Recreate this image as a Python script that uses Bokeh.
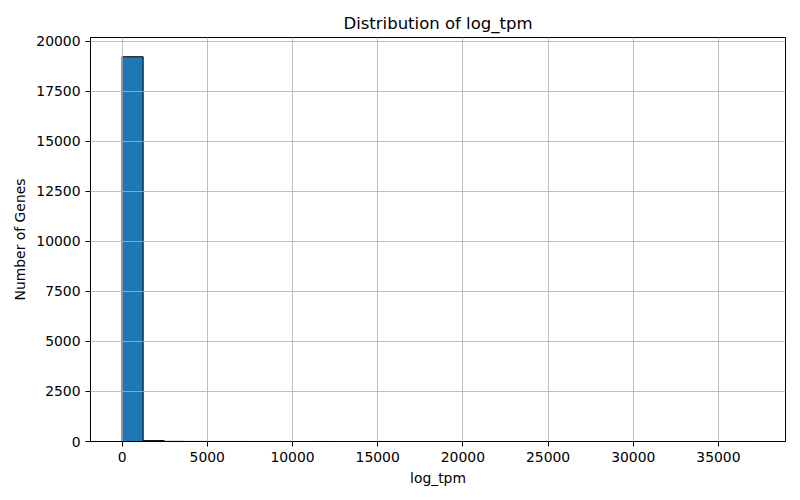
from bokeh.plotting import figure
from bokeh.models import FixedTicker, Range1d, ColumnDataSource
from bokeh.embed import file_html
from bokeh.resources import INLINE

# Histogram of log_tpm, 30 bins
x_min = 0.0
x_max = 37080.0
n_bins = 30
counts = [19230, 45, 6, 3, 2, 2, 1, 1, 0, 1, 0, 0, 1, 0, 0,
          0, 0, 0, 0, 0, 0, 0, 0, 0, 0, 0, 0, 0, 0, 1]
x_ticks = [0, 5000, 10000, 15000, 20000, 25000, 30000, 35000]
y_ticks = [0, 2500, 5000, 7500, 10000, 12500, 15000, 17500, 20000]

width = (x_max - x_min) / n_bins
lefts = [x_min + i * width for i in range(n_bins)]
rights = [l + width for l in lefts]
src = ColumnDataSource(dict(left=lefts, right=rights, top=counts, bottom=[0] * n_bins))

pad = 0.05 * (x_max - x_min)
p = figure(width=800, height=500, output_backend="svg", toolbar_location=None,
           title="Distribution of log_tpm",
           x_range=Range1d(x_min - pad, x_max + pad),
           y_range=Range1d(0, max(counts) * 1.05),
           min_border_left=90, min_border_right=15, min_border_top=37, min_border_bottom=59)

p.quad(left="left", right="right", top="top", bottom="bottom", source=src,
       fill_color="#1f77b4", line_color="black", line_width=1)

p.title.align = "center"
p.title.text_font = "DejaVu Sans"
p.title.text_font_size = "16.5px"
p.title.text_font_style = "normal"
p.title.text_color = "black"

for ax in (p.xaxis[0], p.yaxis[0]):
    ax.axis_label_text_font = "DejaVu Sans"
    ax.axis_label_text_font_size = "13.9px"
    ax.axis_label_text_font_style = "normal"
    ax.axis_label_text_color = "black"
    ax.major_label_text_font = "DejaVu Sans"
    ax.major_label_text_font_size = "13.9px"
    ax.major_label_text_color = "black"
    ax.major_tick_line_color = "black"
    ax.major_tick_out = 5
    ax.major_tick_in = 0
    ax.minor_tick_line_color = None
    ax.axis_line_color = "black"

p.xaxis.axis_label = "log_tpm"
p.yaxis.axis_label = "Number of Genes"
p.xaxis.ticker = FixedTicker(ticks=x_ticks)
p.yaxis.ticker = FixedTicker(ticks=y_ticks)
p.xaxis.major_label_overrides = {t: str(t) for t in x_ticks}
p.yaxis.major_label_overrides = {t: str(t) for t in y_ticks}

for g in (p.xgrid[0], p.ygrid[0]):
    g.grid_line_color = "#b0b0b0"
    g.grid_line_width = 0.8
    g.level = "overlay"
p.xgrid.ticker = FixedTicker(ticks=x_ticks)
p.ygrid.ticker = FixedTicker(ticks=y_ticks)

p.outline_line_color = "black"
p.outline_line_width = 1
p.outline_line_alpha = 1

open("out.html", "w").write(file_html(p, INLINE))
